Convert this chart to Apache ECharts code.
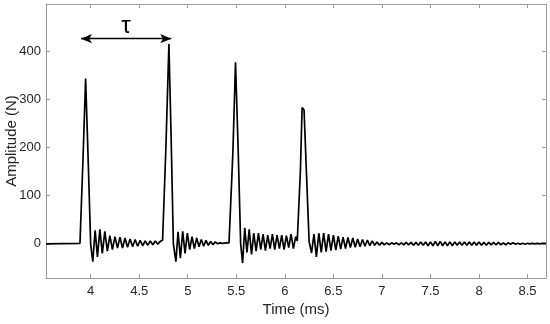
<!DOCTYPE html>
<html>
<head>
<meta charset="utf-8">
<script src="https://cdn.jsdelivr.net/npm/echarts@6/dist/echarts.min.js"></script>
<style>
html,body{margin:0;padding:0;background:#fff;}
#chart{width:550px;height:324px;}
</style>
</head>
<body>
<div id="chart"></div>
<script>
// Time samples (ms)
const timeMs = [
  3.54, 3.89, 3.92, 3.948, 3.975, 4.0, 4.022,
  4.046, 4.070, 4.095, 4.120, 4.146, 4.172, 4.198, 4.224, 4.250, 4.276,
  4.302, 4.328, 4.354, 4.380, 4.406, 4.432, 4.458, 4.484, 4.510, 4.536,
  4.562, 4.588, 4.614, 4.640, 4.666, 4.692, 4.716, 4.730,
  4.741, 4.775, 4.806, 4.830, 4.852, 4.878,
  4.900, 4.924, 4.948, 4.972, 4.996, 5.020, 5.044, 5.068, 5.092, 5.116,
  5.140, 5.164, 5.188, 5.212, 5.236, 5.260, 5.284, 5.308, 5.332, 5.360,
  5.400, 5.425,
  5.435, 5.465, 5.492, 5.520, 5.545, 5.565,
  5.587, 5.610, 5.633, 5.657, 5.680, 5.704, 5.728, 5.752, 5.776, 5.800,
  5.824, 5.848, 5.872, 5.896, 5.920, 5.944, 5.968, 5.992, 6.016, 6.040,
  6.064, 6.088, 6.112, 6.128,
  6.138, 6.160, 6.178, 6.198, 6.222, 6.250, 6.275,
  6.300, 6.325, 6.350, 6.375, 6.400, 6.425, 6.450, 6.475, 6.500, 6.525,
  6.550, 6.575, 6.600, 6.625, 6.650, 6.675, 6.700, 6.725, 6.750, 6.775,
  6.800, 6.825, 6.850, 6.875, 6.900, 6.925, 6.950, 6.975, 7.000, 7.025,
  7.050, 7.075, 7.100, 7.125, 7.150, 7.175, 7.200, 7.225, 7.250, 7.275,
  7.300, 7.325, 7.350, 7.375, 7.400, 7.425, 7.450, 7.475, 7.500, 7.525,
  7.550, 7.575, 7.600, 7.625, 7.650, 7.675, 7.700, 7.725, 7.750, 7.775,
  7.800, 7.825, 7.850, 7.875, 7.900, 7.925, 7.950, 7.975, 8.000, 8.025,
  8.050, 8.075, 8.100, 8.125, 8.150, 8.175, 8.200, 8.225, 8.250, 8.275,
  8.300, 8.325, 8.350, 8.375, 8.400, 8.425, 8.450, 8.475, 8.500, 8.525,
  8.550, 8.575, 8.600, 8.625, 8.650, 8.690
];
// Amplitude (N)
const amplitudeN = [
  0, 1, 170, 343, 170, 0, -37,
  28, -27, 30, -20, 26, -15, 17, -12, 15, -9,
  14, -9, 12, -7, 10, -6, 9, -5, 7, -4,
  6, -3, 6, -2, 6, -1, 5, 3,
  8, 200, 415, 210, 0, -37,
  25, -30, 26, -20, 22, -12, 15, -10, 12, -6,
  9, -5, 7, -3, 5, -2, 4, 0, 2, 1,
  2, 2,
  4, 190, 377, 190, 0, -40,
  33, -18, 30, -22, 22, -15, 22, -12, 20, -14,
  18, -10, 20, -12, 18, -10, 18, -12, 17, -8,
  20, -10, 15, 6,
  10, 150, 283, 278, 150, 5, -19,
  20, -27, 22, -18, 22, -16, 20, -14, 18, -13,
  16, -11, 14, -10, 13, -8, 12, -7, 10, -6,
  9, -5, 8, -4, 6, -3, 4, -3, 3, -2,
  2, -2, 2, -1, 2, -2, 2, -2, 3, -2,
  3, -3, 3, -3, 4, -3, 4, -4, 4, -4,
  5, -4, 5, -4, 4, -4, 4, -4, 4, -3,
  4, -3, 4, -3, 4, -3, 4, -3, 4, -3,
  3, -3, 3, -2, 3, -2, 3, -2, 2, -2,
  2, -1, 2, -1, 1, -1, 1, -1, 1, 0,
  1, 0, 1, 0, 1, 1
];
const xTicks = [4, 4.5, 5, 5.5, 6, 6.5, 7, 7.5, 8, 8.5];
const yTicks = [0, 100, 200, 300, 400];
const xRange = [3.54, 8.69];
const yRange = [-71, 498];
const tauStartMs = 3.90;
const tauEndMs = 4.83;
const tauLevel = 426;
const tauLabel = 'τ';
const xName = 'Time (ms)';
const yName = 'Amplitude (N)';

const seriesData = timeMs.map((t, i) => [t, amplitudeN[i]]);

const axisCol = '#9a9a9a';
const textCol = '#262626';
const font = 'Liberation Sans, Arial, sans-serif';

const chart = echarts.init(document.getElementById('chart'), null, {renderer: 'canvas'});
chart.setOption({
  animation: false,
  backgroundColor: '#ffffff',
  grid: {left: 46, right: 4, top: 4, bottom: 46, containLabel: false, outerBoundsMode: 'none'},
  xAxis: [{
    type: 'value', min: xRange[0], max: xRange[1], position: 'bottom',
    name: xName, nameLocation: 'middle', nameGap: 24, nameMoveOverlap: false,
    nameTextStyle: {color: textCol, fontSize: 15, fontFamily: font},
    axisLine: {show: true, onZero: false, lineStyle: {color: axisCol, width: 1}},
    axisTick: {show: true, inside: true, length: 4, customValues: xTicks, lineStyle: {color: axisCol}},
    axisLabel: {show: true, customValues: xTicks, margin: 7, color: textCol, fontSize: 13, fontFamily: font,
      formatter: v => String(v)},
    splitLine: {show: false}
  }, {
    type: 'value', min: xRange[0], max: xRange[1], position: 'top',
    axisLine: {show: true, onZero: false, lineStyle: {color: axisCol, width: 1}},
    axisTick: {show: true, inside: true, length: 4, customValues: xTicks, lineStyle: {color: axisCol}},
    axisLabel: {show: false},
    splitLine: {show: false}
  }],
  yAxis: [{
    type: 'value', min: yRange[0], max: yRange[1], position: 'left',
    name: yName, nameLocation: 'middle', nameGap: 27, nameRotate: 90, nameMoveOverlap: false,
    nameTextStyle: {color: textCol, fontSize: 15, fontFamily: font},
    axisLine: {show: true, onZero: false, lineStyle: {color: axisCol, width: 1}},
    axisTick: {show: true, inside: true, length: 4, customValues: yTicks, lineStyle: {color: axisCol}},
    axisLabel: {show: true, customValues: yTicks, margin: 5, color: textCol, fontSize: 13, fontFamily: font},
    splitLine: {show: false}
  }, {
    type: 'value', min: yRange[0], max: yRange[1], position: 'right',
    axisLine: {show: true, onZero: false, lineStyle: {color: axisCol, width: 1}},
    axisTick: {show: true, inside: true, length: 4, customValues: yTicks, lineStyle: {color: axisCol}},
    axisLabel: {show: false},
    splitLine: {show: false}
  }],
  series: [{
    type: 'line',
    xAxisIndex: 0, yAxisIndex: 0,
    data: seriesData,
    showSymbol: false, symbol: 'none',
    smooth: false,
    lineStyle: {color: '#000000', width: 1.7},
    clip: true,
    markLine: {
      silent: true,
      symbol: ['arrow', 'arrow'],
      symbolSize: [7, 11],
      lineStyle: {color: '#000000', width: 1.3, type: 'solid'},
      label: {show: true, position: 'middle', formatter: tauLabel, color: '#000000',
        fontSize: 24, fontFamily: font, distance: 0},
      data: [[{coord: [tauStartMs, tauLevel]}, {coord: [tauEndMs, tauLevel]}]]
    }
  }]
});
</script>
</body>
</html>
